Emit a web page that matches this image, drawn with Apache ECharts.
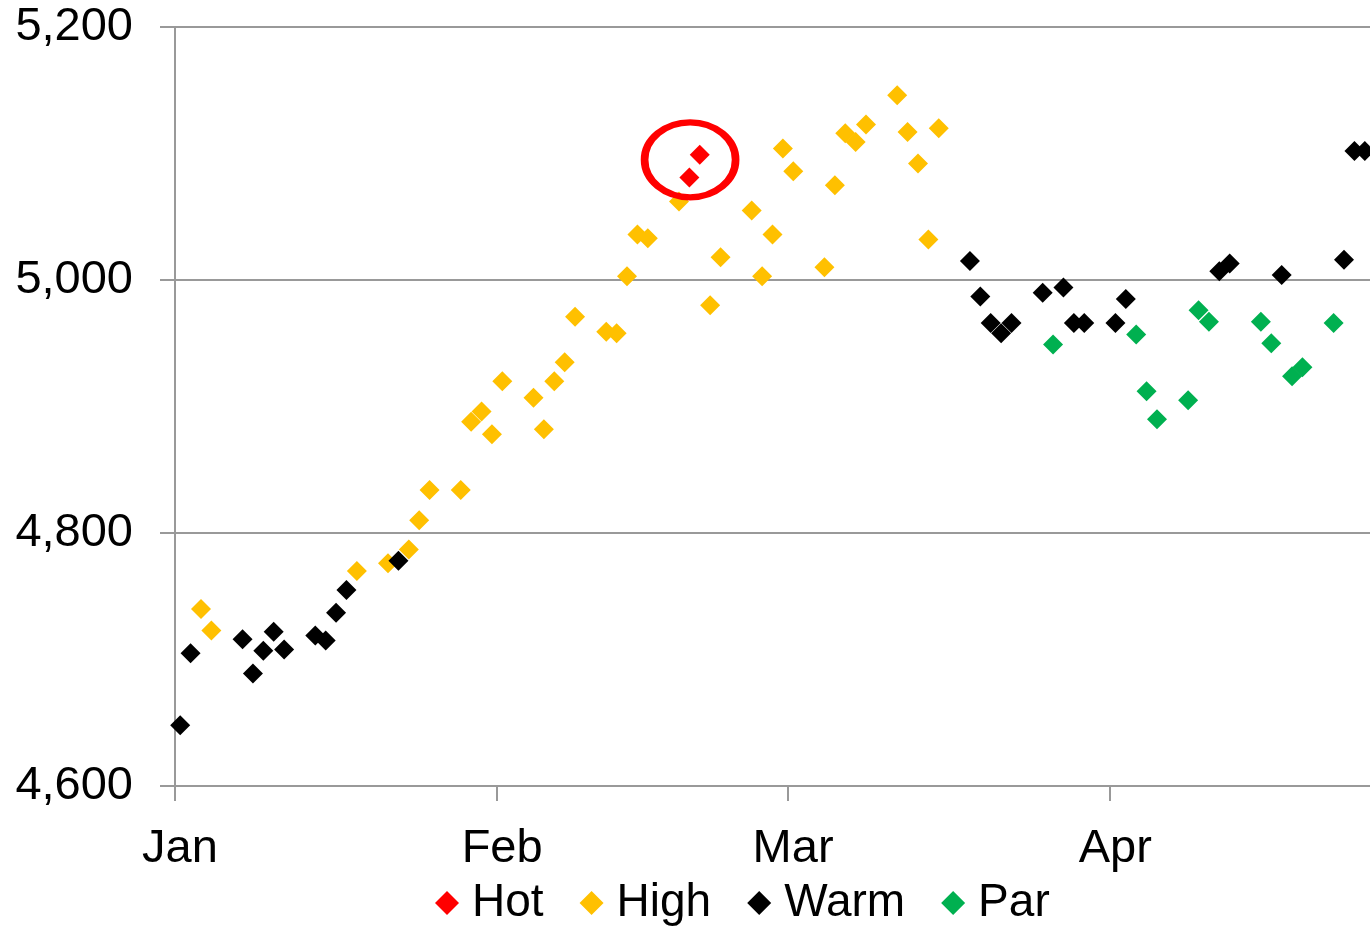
<!DOCTYPE html>
<html>
<head>
<meta charset="utf-8">
<script src="https://cdn.jsdelivr.net/npm/echarts@6/dist/echarts.min.js"></script>
<style>
html,body{margin:0;padding:0;background:#fff;}
#chart{width:1370px;height:929px;}
</style>
</head>
<body>
<div id="chart"></div>
<script>
// Day numbers are days since 1 Jan (0 = 1 Jan); points sit mid-day.
var hotDays = [49, 50];
var hotValues = [5081, 5099];

var highDays = [2, 3, 17, 20, 22, 23, 24, 27, 28, 29, 30, 31, 34, 35, 36, 37, 38, 41, 42, 43, 44, 45, 48,
  51, 52, 55, 56, 57, 58, 59, 62, 63, 64, 65, 66, 69, 70, 71, 72, 73];
var highValues = [4740, 4723, 4770, 4776, 4787, 4810, 4834, 4834, 4888, 4896, 4878, 4920, 4907, 4882, 4920, 4935, 4971, 4959, 4958, 5003, 5036, 5033, 5062,
  4980, 5018, 5055, 5003, 5036, 5104, 5086, 5010, 5075, 5116, 5109, 5123, 5146, 5117, 5092, 5032, 5120];

var warmDays = [0, 1, 6, 7, 8, 9, 10, 13, 14, 15, 16, 21, 76, 77, 78, 79, 80, 83, 85, 86, 87, 90, 91,
  100, 101, 106, 112, 113, 114];
var warmValues = [4648, 4705, 4716, 4689, 4707, 4722, 4708, 4719, 4715, 4737, 4755, 4778, 5015, 4987, 4966, 4958, 4966, 4990, 4994, 4966, 4966, 4966, 4985,
  5007, 5013, 5004, 5016, 5102, 5102];

var parDays = [84, 92, 93, 94, 97, 98, 99, 104, 105, 107, 108, 111];
var parValues = [4949, 4957, 4912, 4890, 4905, 4976, 4967, 4967, 4950, 4924, 4931, 4966];

var monthTicks = [0, 31, 59, 90];
var monthLabels = ['Jan', 'Feb', 'Mar', 'Apr'];
var circleCenter = [49.57, 5095];

function pts(days, vals) {
  return days.map(function (d, i) { return [d + 0.5, vals[i]]; });
}

var FONT = "'Liberation Sans', Arial, sans-serif";
var GRAY = '#999999';

var chart = echarts.init(document.getElementById('chart'));
var sym = { type: 'scatter', symbol: 'diamond', symbolSize: 20 };

chart.setOption({
  animation: false,
  textStyle: { fontFamily: FONT },
  grid: { left: 175, right: 0, top: 27, bottom: 143, containLabel: false },
  xAxis: {
    type: 'value', min: 0, max: 115,
    axisLine: { show: true, onZero: false, lineStyle: { color: GRAY, width: 2 } },
    axisTick: { show: true, length: 15, customValues: monthTicks, lineStyle: { color: GRAY, width: 2 } },
    axisLabel: {
      customValues: monthTicks, fontSize: 47, color: '#000', fontFamily: FONT, margin: 40,
      padding: [0, 0, 0, 10],
      formatter: function (v) { var i = monthTicks.indexOf(Math.round(v)); return i >= 0 ? monthLabels[i] : ''; }
    },
    splitLine: { show: false }
  },
  yAxis: {
    type: 'value', min: 4600, max: 5200, interval: 200,
    axisLine: { show: true, lineStyle: { color: GRAY, width: 2 } },
    axisTick: { show: true, length: 15, lineStyle: { color: GRAY, width: 2 } },
    axisLabel: {
      fontSize: 47, color: '#000', fontFamily: FONT, margin: 42,
      formatter: function (v) { return v.toLocaleString('en-US'); }
    },
    splitLine: { show: true, lineStyle: { color: GRAY, width: 2 } }
  },
  legend: {
    bottom: -2, left: 430, itemWidth: 24, itemHeight: 24, itemGap: 36,
    textStyle: { fontSize: 46, color: '#000', fontFamily: FONT, padding: [0, 0, 0, 8] },
    data: ['Hot', 'High', 'Warm', 'Par']
  },
  series: [
    Object.assign({}, sym, { name: 'Hot', itemStyle: { color: '#FF0000', opacity: 1 }, data: pts(hotDays, hotValues), z: 5,
      markPoint: {
        symbol: 'circle', symbolSize: [91, 75], label: { show: false },
        itemStyle: { color: 'rgba(0,0,0,0)', borderColor: '#FF0000', borderWidth: 7, opacity: 1 },
        data: [{ coord: circleCenter }]
      } }),
    Object.assign({}, sym, { name: 'High', itemStyle: { color: '#FFC000', opacity: 1 }, data: pts(highDays, highValues), z: 2 }),
    Object.assign({}, sym, { name: 'Warm', itemStyle: { color: '#000000', opacity: 1 }, data: pts(warmDays, warmValues), z: 3 }),
    Object.assign({}, sym, { name: 'Par', itemStyle: { color: '#00B050', opacity: 1 }, data: pts(parDays, parValues), z: 4 })
  ]
});
</script>
</body>
</html>
